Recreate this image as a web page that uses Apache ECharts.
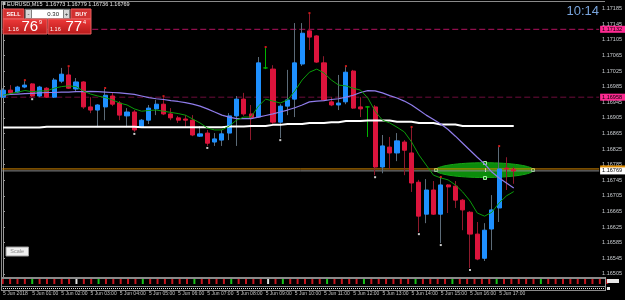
<!DOCTYPE html>
<html>
<head>
<meta charset="utf-8">
<title>EURUSD,M15</title>
<script src="https://cdn.jsdelivr.net/npm/echarts@6/dist/echarts.min.js"></script>
<style>
    html, body { margin: 0; padding: 0; background: #000; }
    #chart { width: 625px; height: 300px; }
</style>
</head>
<body>
<div id="chart"></div>
<script>
// EURUSD M15, 5 Jun 2018, one entry per bar from 00:00 to 17:30
var openPrices = [1.16958, 1.16976, 1.16971, 1.16984, 1.16992, 1.16961, 1.16981, 1.16958, 1.16999, 1.17015,
    1.16979, 1.16997, 1.16933, 1.16925, 1.16933, 1.16961, 1.16943, 1.16910, 1.16920, 1.16881,
    1.16899, 1.16928, 1.16940, 1.16915, 1.16905, 1.16902, 1.16899, 1.16858, 1.16866, 1.16843,
    1.16848, 1.16866, 1.16910, 1.16953, 1.16915, 1.16907, 1.17033, 1.17030, 1.16894, 1.16935,
    1.16953, 1.17043, 1.17128, 1.17115, 1.17046, 1.16946, 1.16938, 1.16946, 1.17025, 1.16933,
    1.16933, 1.16933, 1.16779, 1.16830, 1.16815, 1.16843, 1.16815, 1.16740, 1.16658, 1.16720,
    1.16658, 1.16733, 1.16730, 1.16694, 1.16663, 1.16607, 1.16545, 1.16620, 1.16674, 1.16776,
    1.16773];
var highPrices = [1.16981, 1.16989, 1.16987, 1.16999, 1.16994, 1.16987, 1.16984, 1.17007, 1.17033, 1.17035,
    1.17007, 1.16999, 1.16958, 1.16940, 1.16979, 1.16971, 1.16948, 1.16930, 1.16925, 1.16902,
    1.16938, 1.16951, 1.16958, 1.16930, 1.16910, 1.16912, 1.16912, 1.16884, 1.16874, 1.16866,
    1.16874, 1.16917, 1.16961, 1.16969, 1.16938, 1.17061, 1.17084, 1.17040, 1.16940, 1.17028,
    1.17148, 1.17148, 1.17171, 1.17117, 1.17063, 1.16958, 1.17015, 1.17035, 1.17028, 1.16958,
    1.16935, 1.16938, 1.16861, 1.16856, 1.16866, 1.16848, 1.16879, 1.16746, 1.16748, 1.16743,
    1.16751, 1.16735, 1.16743, 1.16697, 1.16666, 1.16638, 1.16635, 1.16707, 1.16830, 1.16804,
    1.16779];
var lowPrices = [1.16956, 1.16966, 1.16969, 1.16981, 1.16958, 1.16958, 1.16956, 1.16956, 1.16994, 1.16979,
    1.16971, 1.16928, 1.16917, 1.16881, 1.16899, 1.16935, 1.16899, 1.16881, 1.16869, 1.16879,
    1.16889, 1.16912, 1.16912, 1.16899, 1.16892, 1.16881, 1.16858, 1.16856, 1.16833, 1.16833,
    1.16833, 1.16848, 1.16833, 1.16910, 1.16848, 1.16905, 1.17030, 1.16889, 1.16853, 1.16912,
    1.16907, 1.17038, 1.17079, 1.17046, 1.16948, 1.16935, 1.16925, 1.16940, 1.16928, 1.16907,
    1.16856, 1.16758, 1.16763, 1.16774, 1.16794, 1.16758, 1.16715, 1.16612, 1.16635, 1.16656,
    1.16584, 1.16661, 1.16674, 1.16617, 1.16520, 1.16540, 1.16538, 1.16566, 1.16638, 1.16720,
    1.16736];
var closePrices = [1.16976, 1.16969, 1.16984, 1.16989, 1.16961, 1.16984, 1.16958, 1.17002, 1.17017, 1.16981,
    1.16997, 1.16933, 1.16925, 1.16938, 1.16963, 1.16940, 1.16912, 1.16920, 1.16874, 1.16899,
    1.16930, 1.16940, 1.16915, 1.16905, 1.16899, 1.16899, 1.16861, 1.16864, 1.16840, 1.16851,
    1.16864, 1.16910, 1.16953, 1.16915, 1.16905, 1.17046, 1.17033, 1.16894, 1.16935, 1.16951,
    1.17046, 1.17122, 1.17112, 1.17048, 1.16951, 1.16938, 1.16943, 1.17022, 1.16930, 1.16928,
    1.16933, 1.16779, 1.16833, 1.16815, 1.16846, 1.16822, 1.16738, 1.16653, 1.16720, 1.16658,
    1.16733, 1.16728, 1.16694, 1.16669, 1.16607, 1.16543, 1.16617, 1.16669, 1.16774, 1.16774,
    1.16769];

// indicator lines
var maFast = [1.16963, 1.16967, 1.16971, 1.16975, 1.16972, 1.16974, 1.16974, 1.16981, 1.16985, 1.16987,
    1.16985, 1.16974, 1.16966, 1.16961, 1.16957, 1.16951, 1.16943, 1.16938, 1.16928, 1.16922,
    1.16924, 1.16925, 1.16922, 1.16919, 1.16916, 1.16912, 1.16902, 1.16892, 1.16879, 1.16874,
    1.16874, 1.16884, 1.16899, 1.16907, 1.16907, 1.16935, 1.16953, 1.16948, 1.16943, 1.16951,
    1.16974, 1.17002, 1.17022, 1.17030, 1.17020, 1.17002, 1.16989, 1.16987, 1.16981, 1.16976,
    1.16956, 1.16922, 1.16899, 1.16892, 1.16881, 1.16869, 1.16843, 1.16810, 1.16784, 1.16758,
    1.16751, 1.16746, 1.16733, 1.16715, 1.16692, 1.16661, 1.16653, 1.16663, 1.16687, 1.16705,
    1.16716];
var maMid = [1.16963, 1.16965, 1.16966, 1.16967, 1.16968, 1.16969, 1.16970, 1.16970, 1.16971, 1.16971,
    1.16972, 1.16972, 1.16973, 1.16972, 1.16971, 1.16970, 1.16969, 1.16967, 1.16965, 1.16961,
    1.16957, 1.16954, 1.16952, 1.16949, 1.16947, 1.16944, 1.16940, 1.16935, 1.16928, 1.16920,
    1.16912, 1.16907, 1.16903, 1.16903, 1.16903, 1.16907, 1.16911, 1.16915, 1.16920, 1.16925,
    1.16931, 1.16938, 1.16946, 1.16948, 1.16949, 1.16952, 1.16954, 1.16958, 1.16963, 1.16970,
    1.16975, 1.16974, 1.16969, 1.16962, 1.16956, 1.16948, 1.16938, 1.16925, 1.16912, 1.16901,
    1.16889, 1.16875, 1.16858, 1.16840, 1.16822, 1.16804, 1.16787, 1.16766, 1.16751, 1.16738,
    1.16725];
var maSlow = [1.16880, 1.16880, 1.16880, 1.16880, 1.16880, 1.16880, 1.16882, 1.16882, 1.16882, 1.16882,
    1.16882, 1.16882, 1.16882, 1.16882, 1.16882, 1.16882, 1.16882, 1.16882, 1.16882, 1.16881,
    1.16881, 1.16881, 1.16881, 1.16881, 1.16881, 1.16881, 1.16881, 1.16881, 1.16881, 1.16881,
    1.16881, 1.16883, 1.16883, 1.16883, 1.16884, 1.16884, 1.16884, 1.16887, 1.16887, 1.16889,
    1.16889, 1.16889, 1.16892, 1.16892, 1.16892, 1.16894, 1.16894, 1.16897, 1.16897, 1.16897,
    1.16898, 1.16898, 1.16898, 1.16898, 1.16895, 1.16895, 1.16895, 1.16892, 1.16892, 1.16892,
    1.16888, 1.16888, 1.16888, 1.16884, 1.16884, 1.16884, 1.16884, 1.16884, 1.16884, 1.16884,
    1.16884];

var fractalUpBars = [3, 9, 14, 22, 36, 42, 47, 56, 60, 68];
var fractalDownBars = [4, 18, 28, 38, 51, 57, 60, 64];

var timeLabelBars = [0, 4, 8, 12, 16, 20, 24, 28, 32, 36, 40, 44, 48, 52, 56, 60, 64, 68];
var timeLabels = ['5 Jun 2018', '5 Jun 01:00', '5 Jun 02:00', '5 Jun 03:00', '5 Jun 04:00', '5 Jun 05:00',
    '5 Jun 06:00', '5 Jun 07:00', '5 Jun 08:00', '5 Jun 09:00', '5 Jun 10:00', '5 Jun 11:00',
    '5 Jun 12:00', '5 Jun 13:00', '5 Jun 14:00', '5 Jun 15:00', '5 Jun 16:00', '5 Jun 17:00'];
var priceTicks = [1.16505, 1.16545, 1.16585, 1.16625, 1.16665, 1.16705, 1.16745, 1.16785, 1.16825,
    1.16865, 1.16905, 1.16945, 1.16985, 1.17025, 1.17065, 1.17105, 1.17145, 1.17185];

var levelHigh = 1.17132;
var levelLow = 1.16958;
var bidPrice = 1.16769;
var askPrice = 1.16774;

// ellipse object drawn on the chart: centre bar / price and half sizes
var ellipseCentre = [66.0, 1.16771];
var ellipseHalf = [6.7, 0.00019];

// small indicator strip under the price pane (r = red, g = green, w = white)
var stripMarks = 'rrrrgrrrrrwrrgrrrrrgrrrrrrgrrrrgrrrrwrgrrrrrgrrrrgrrrrrrgrrrrgrrrrrgrrrrrgrrrrrrrrr'.split('');

var FONT = 'Liberation Sans';
var X_MIN = -0.1, X_MAX = 81.7;

var upColor = '#1e90ff', downColor = '#dc143c', dojiColor = '#00b400';
var upWick = '#5c6b78', downWick = '#8e1a2c';

function buildCandles() {
    var wicks = [], bodies = [];
    for (var i = 0; i < openPrices.length; i++) {
        var o = openPrices[i], c = closePrices[i];
        var w = {value: [i, o, c, lowPrices[i], highPrices[i]]};
        var b = {value: [i, o, c, Math.min(o, c), Math.max(o, c)]};
        if (o === c) {
            var ds = {color: dojiColor, color0: dojiColor, borderColor: dojiColor, borderColor0: dojiColor};
            w.itemStyle = ds;
            b.itemStyle = ds;
        }
        wicks.push(w);
        bodies.push(b);
    }
    return {wicks: wicks, bodies: bodies};
}

function pairs(arr) {
    return arr.map(function (v, i) { return [i, v]; });
}

// horizontal price level across the whole pane, with its tag on the price axis
function levelSeries(value, color, dash, bg, fg) {
    return {
        type: 'line', silent: true, showSymbol: false, z: 3,
        data: [[X_MIN, value], [X_MAX, value]],
        lineStyle: {color: color, type: dash, width: 1},
        endLabel: {
            show: true, distance: 1,
            backgroundColor: bg, color: fg, fontSize: 5.5, fontFamily: FONT,
            padding: [1, 3, 0, 2],
            formatter: value.toFixed(5)
        }
    };
}

var candles = buildCandles();

var option = {
    backgroundColor: '#000000',
    animation: false,
    grid: [
        {left: 2, right: 20, top: 2, bottom: 23},
        {left: 2, right: 20, top: 279, height: 5}
    ],
    xAxis: [
        {
            type: 'value', min: X_MIN, max: X_MAX, gridIndex: 0,
            axisLine: {show: false},
            axisTick: {show: false},
            splitLine: {show: false},
            axisLabel: {
                customValues: timeLabelBars,
                margin: 14, align: 'left',
                color: '#c4c4c4', fontSize: 5, fontFamily: FONT,
                formatter: function (v) {
                    var k = timeLabelBars.indexOf(Math.round(v));
                    return k >= 0 ? timeLabels[k] : '';
                }
            }
        },
        {type: 'value', min: X_MIN, max: X_MAX, gridIndex: 1, show: false}
    ],
    yAxis: [
        {
            type: 'value', position: 'right', gridIndex: 0,
            min: 1.16497, max: 1.17202, scale: true,
            axisLine: {show: true, lineStyle: {color: '#9a9a9a', width: 1}},
            axisTick: {show: true, length: 2, customValues: priceTicks, lineStyle: {color: '#9a9a9a'}},
            splitLine: {show: false},
            axisLabel: {
                customValues: priceTicks, margin: 3,
                color: '#c8ccd0', fontSize: 5.5, fontFamily: FONT,
                formatter: function (v) { return v.toFixed(5); }
            }
        },
        {type: 'value', min: 0, max: 1, gridIndex: 1, show: false}
    ],
    series: [
        levelSeries(levelLow, '#6e0c3c', [6, 3], '#ff2a92', '#000'),
        levelSeries(levelHigh, '#b3125f', [6, 3], '#ff2a92', '#000'),
        levelSeries(askPrice, '#d88a00', 'solid', '#e08c00', '#e08c00'),
        levelSeries(bidPrice, '#8c8c8c', 'solid', '#ffffff', '#000'),
        {
            name: 'wicks', type: 'candlestick', xAxisIndex: 0, yAxisIndex: 0,
            barWidth: 0.1, silent: true, z: 4,
            itemStyle: {color: upWick, color0: downWick, borderColor: upWick, borderColor0: downWick, borderWidth: 1},
            data: candles.wicks
        },
        {
            name: 'bodies', type: 'candlestick', xAxisIndex: 0, yAxisIndex: 0,
            barWidth: 4.6, silent: true, z: 5,
            itemStyle: {color: upColor, color0: downColor, borderColor: upColor, borderColor0: downColor, borderWidth: 1},
            data: candles.bodies
        },
        {
            name: 'slow', type: 'line', data: pairs(maSlow), showSymbol: false, silent: true, z: 6,
            lineStyle: {color: '#ffffff', width: 2}
        },
        {
            name: 'mid', type: 'line', data: pairs(maMid), showSymbol: false, silent: true, z: 6,
            lineStyle: {color: '#8f7cea', width: 1.2}
        },
        {
            name: 'fast', type: 'line', data: pairs(maFast), showSymbol: false, silent: true, z: 6,
            lineStyle: {color: '#0a9c0a', width: 1}
        },
        {
            name: 'fractal up', type: 'scatter', symbol: 'rect', symbolSize: [2, 2], symbolOffset: [0, -1],
            silent: true, z: 7, itemStyle: {color: '#ff2020'},
            data: fractalUpBars.map(function (i) { return [i, highPrices[i]]; })
        },
        {
            name: 'fractal down', type: 'scatter', symbol: 'rect', symbolSize: [2, 2], symbolOffset: [0, 2],
            silent: true, z: 7, itemStyle: {color: '#ffffff'},
            data: fractalDownBars.map(function (i) { return [i, lowPrices[i]]; })
        },
        {
            name: 'strip', type: 'bar', xAxisIndex: 1, yAxisIndex: 1, barWidth: 2, silent: true,
            data: stripMarks.map(function (m, i) {
                var col = m === 'g' ? '#18c018' : (m === 'w' ? '#e0e0e0' : '#c8141e');
                return {value: [i, 1], itemStyle: {color: col}};
            })
        }
    ]
};

var chart = echarts.init(document.getElementById('chart'), null, {renderer: 'canvas'});
chart.setOption(option);

function txt(x, y, text, size, color, align, extra) {
    var s = {
        text: text, fill: color, fontSize: size, fontFamily: FONT,
        align: align || 'left', verticalAlign: 'middle'
    };
    if (extra) { for (var k in extra) { s[k] = extra[k]; } }
    return {type: 'text', x: x, y: y, z: 101, silent: true, style: s};
}

function box(x, y, w, h, fill, stroke, z) {
    return {
        type: 'rect', z: z || 100, silent: true,
        shape: {x: x, y: y, width: w, height: h},
        style: {fill: fill, stroke: stroke || null, lineWidth: 1}
    };
}

var redFill = {
    type: 'linear', x: 0, y: 0, x2: 0, y2: 1,
    colorStops: [{offset: 0, color: '#ef3a3a'}, {offset: 1, color: '#b81a1a'}]
};

var c = chart.convertToPixel({xAxisIndex: 0, yAxisIndex: 0}, ellipseCentre);
var e = chart.convertToPixel({xAxisIndex: 0, yAxisIndex: 0},
    [ellipseCentre[0] + ellipseHalf[0], ellipseCentre[1] + ellipseHalf[1]]);
var rx = e[0] - c[0], ry = c[1] - e[1];

var handle = function (x, y) {
    return box(Math.round(x) - 1.5, Math.round(y) - 1.5, 3, 3, '#0b8c0b', '#a8e8a8', 1);
};

var graphics = [
    // ellipse object (behind the candles)
    {
        type: 'ellipse', z: 0, silent: true,
        shape: {cx: c[0], cy: c[1], rx: rx, ry: ry},
        style: {fill: '#0b8c0b', stroke: '#17a617', lineWidth: 1}
    },
    handle(c[0], c[1] - ry), handle(c[0], c[1] + ry), handle(c[0] - rx, c[1]), handle(c[0] + rx, c[1]),
    box(Math.round(c[0]), c[1] - 2, 1, 4, '#ffffff', null, 1),

    // frame and pane separators
    {type: 'line', z: 90, silent: true, shape: {x1: 1.5, y1: 1, x2: 1.5, y2: 291}, style: {stroke: '#8a8a8a', lineWidth: 1}},
    {type: 'line', z: 90, silent: true, shape: {x1: 1, y1: 1.5, x2: 605, y2: 1.5}, style: {stroke: '#8a8a8a', lineWidth: 1}},
    {type: 'line', z: 90, silent: true, shape: {x1: 1, y1: 278, x2: 605, y2: 278}, style: {stroke: '#8a8a8a', lineWidth: 2}},
    {type: 'line', z: 90, silent: true, shape: {x1: 1, y1: 286.5, x2: 605, y2: 286.5}, style: {stroke: '#8a8a8a', lineWidth: 1}},
    {type: 'line', z: 90, silent: true, shape: {x1: 1, y1: 290.5, x2: 605, y2: 290.5}, style: {stroke: '#8a8a8a', lineWidth: 1}},
    {type: 'line', z: 90, silent: true, shape: {x1: 605.5, y1: 277, x2: 605.5, y2: 291}, style: {stroke: '#9a9a9a', lineWidth: 1}},
    {type: 'line', z: 90, silent: true, shape: {x1: 3, y1: 288.5, x2: 604, y2: 288.5}, style: {stroke: '#e8e8e8', lineWidth: 1, lineDash: [1, 1]}},
    box(607, 279, 12, 4, '#e8e8e8', null, 90),
    box(607, 287, 3, 3, '#e8e8e8', null, 90),

    // header
    box(2.5, 2, 3, 3, '#c0c0c0', null, 100),
    txt(7, 4.5, 'EURUSD,M15  1.16773 1.16779 1.16736 1.16769', 5.5, '#e8e8e8'),
    txt(599, 11, '10:14', 13, '#78a4dc', 'right'),

    // one click trading panel
    box(3, 9, 21, 10, '#d23030', '#e86060'),
    txt(13.5, 14, 'SELL', 5.5, '#ffffff', 'center', {fontWeight: 'bold'}),
    box(25, 9, 45, 10, '#ffffff', '#404040'),
    box(25.5, 9.5, 6, 9, '#d6d6d6', '#808080'),
    box(63.5, 9.5, 6, 9, '#d6d6d6', '#808080'),
    txt(28.5, 14, '-', 6, '#202020', 'center'),
    txt(66.5, 14, '+', 6, '#202020', 'center'),
    txt(59, 14, '0.30', 6, '#202020', 'right'),
    box(71, 9, 20, 10, '#d23030', '#e86060'),
    txt(81, 14, 'BUY', 5.5, '#ffffff', 'center', {fontWeight: 'bold'}),
    box(3, 19, 44, 15, redFill, '#e86060'),
    box(48, 19, 43, 15, redFill, '#e86060'),
    txt(8, 29.5, '1.16', 5.5, '#ffffff'),
    txt(21.5, 27, '76', 15, '#ffffff'),
    txt(39, 22.5, '9', 5.5, '#ffffff'),
    txt(50, 29.5, '1.16', 5.5, '#ffffff'),
    txt(65.5, 27, '77', 15, '#ffffff'),
    txt(83, 22.5, '4', 5.5, '#ffffff'),

    // scale button
    box(6, 247, 22.5, 9, '#f0f0f0', '#9a9a9a'),
    txt(17.2, 251.7, 'Scale', 5.5, '#8a8a8a', 'center')
];

chart.setOption({graphic: graphics});
</script>
</body>
</html>
